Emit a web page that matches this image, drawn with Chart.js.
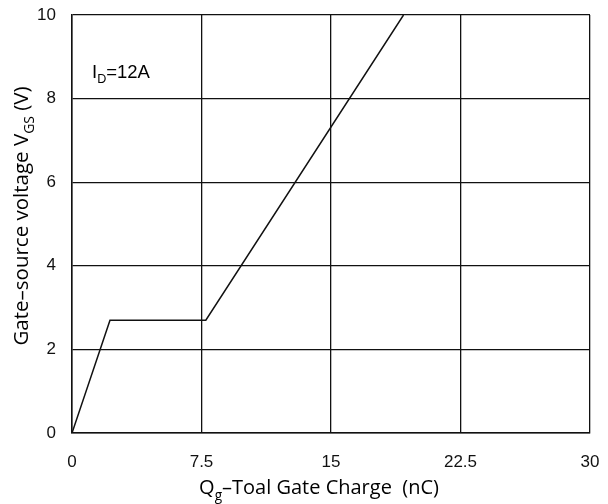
<!DOCTYPE html>
<html>
<head>
<meta charset="utf-8">
<script src="https://cdn.jsdelivr.net/npm/chart.js@4/dist/chart.umd.min.js"></script>
<style>
  html, body { margin: 0; padding: 0; background: #fff; }
  #wrap { width: 608px; height: 504px; }
</style>
</head>
<body>
<div id="wrap"><canvas id="chart"></canvas></div>
<script>
// gate charge curve
const charge = [0, 2.2, 7.75, 19.2];
const vgs = [0, 2.7, 2.7, 10];
const xTicks = [0, 7.5, 15, 22.5, 30];
const yTicks = [0, 2, 4, 6, 8, 10];

// draws text runs, some of them as subscripts
function drawRuns(ctx, runs, x, y, size, family, align) {
  const subSize = size * 0.68;
  let total = 0;
  runs.forEach(([t, sub]) => {
    ctx.font = (sub ? subSize : size) + "px " + family;
    total += ctx.measureText(t).width;
  });
  let cx = align === "center" ? x - total / 2 : x;
  ctx.textAlign = "left";
  ctx.textBaseline = "alphabetic";
  runs.forEach(([t, sub]) => {
    ctx.font = (sub ? subSize : size) + "px " + family;
    ctx.fillText(t, cx, sub ? y + size * 0.28 : y);
    cx += ctx.measureText(t).width;
  });
}

const labels = {
  id: "labels",
  afterDraw(chart) {
    const ctx = chart.ctx;
    ctx.save();
    ctx.fillStyle = "#000";
    drawRuns(ctx, [["I", false], ["D", true], ["=12A", false]], 92, 78, 18.5, "'Liberation Sans', Arial, sans-serif", "left");
    drawRuns(ctx, [["Q", false], ["g", true], ["\u2013Toal Gate Charge  (nC)", false]], 319, 494, 20, "'Open Sans', sans-serif", "center");
    ctx.translate(28, 216);
    ctx.rotate(-Math.PI / 2);
    drawRuns(ctx, [["Gate\u2013source voltage V", false], ["GS", true], [" (V)", false]], 0, 0, 20.5, "'Open Sans', sans-serif", "center");
    ctx.restore();
  }
};

new Chart(document.getElementById("chart"), {
  type: "scatter",
  data: {
    datasets: [{
      data: charge.map((q, i) => ({ x: q, y: vgs[i] })),
      showLine: true,
      borderColor: "#111",
      borderWidth: 1.5,
      pointRadius: 0,
      tension: 0
    }]
  },
  options: {
    responsive: true,
    maintainAspectRatio: false,
    animation: false,
    layout: { padding: { top: 15, right: 18, left: 0, bottom: 0 } },
    plugins: { legend: { display: false }, tooltip: { enabled: false } },
    scales: {
      x: {
        type: "linear",
        min: 0,
        max: 30,
        afterBuildTicks: (s) => { s.ticks = xTicks.map(v => ({ value: v })); },
        afterFit: (s) => { s.height = 71; s.paddingLeft = 0; s.paddingRight = 0; },
        grid: { color: "#111", lineWidth: 1.3, drawTicks: false },
        border: { color: "#111", width: 1.5 },
        ticks: {
          padding: 19,
          color: "#111",
          font: { size: 17, family: "'Liberation Sans', Arial, sans-serif" },
          maxRotation: 0,
          callback: (v) => String(v)
        }
      },
      y: {
        min: 0,
        max: 10,
        afterBuildTicks: (s) => { s.ticks = yTicks.map(v => ({ value: v })); },
        afterFit: (s) => { s.width = 72; s.paddingTop = 0; s.paddingBottom = 0; },
        grid: { color: "#111", lineWidth: 1.3, drawTicks: false },
        border: { color: "#111", width: 1.5 },
        ticks: {
          padding: 16,
          color: "#111",
          font: { size: 17, family: "'Liberation Sans', Arial, sans-serif" }
        }
      }
    }
  },
  plugins: [labels]
});
</script>
</body>
</html>
